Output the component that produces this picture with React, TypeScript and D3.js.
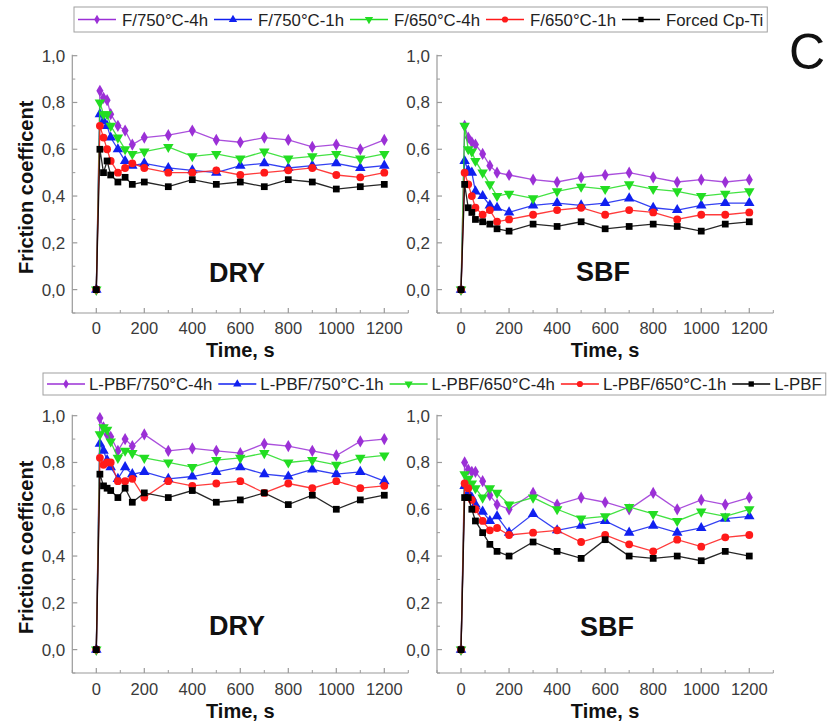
import React from "react";
import * as d3 from "d3";

const times = [0, 15, 30, 45, 60, 90, 120, 150, 200, 300, 400, 500, 600, 700, 800, 900, 1000, 1100, 1200];

// Top row: F series
const topLabels = ["F/750°C-4h", "F/750°C-1h", "F/650°C-4h", "F/650°C-1h", "Forced Cp-Ti"];
const f750_4h_dry = [0, 0.85, 0.82, 0.81, 0.75, 0.70, 0.68, 0.62, 0.65, 0.66, 0.68, 0.64, 0.63, 0.65, 0.64, 0.61, 0.62, 0.60, 0.64];
const f750_1h_dry = [0, 0.75, 0.72, 0.70, 0.65, 0.60, 0.55, 0.53, 0.54, 0.52, 0.51, 0.50, 0.53, 0.54, 0.52, 0.53, 0.54, 0.52, 0.53];
const f650_4h_dry = [0, 0.80, 0.75, 0.75, 0.70, 0.65, 0.60, 0.58, 0.59, 0.61, 0.57, 0.58, 0.56, 0.59, 0.56, 0.57, 0.58, 0.56, 0.58];
const f650_1h_dry = [0, 0.70, 0.65, 0.60, 0.55, 0.50, 0.52, 0.54, 0.52, 0.50, 0.50, 0.51, 0.49, 0.50, 0.51, 0.52, 0.49, 0.48, 0.50];
const forced_dry = [0, 0.60, 0.50, 0.55, 0.49, 0.46, 0.48, 0.45, 0.46, 0.44, 0.47, 0.45, 0.46, 0.44, 0.47, 0.46, 0.43, 0.44, 0.45];

const f750_4h_sbf = [0, 0.70, 0.65, 0.63, 0.62, 0.58, 0.53, 0.50, 0.49, 0.47, 0.46, 0.48, 0.49, 0.50, 0.48, 0.46, 0.47, 0.46, 0.47];
const f750_1h_sbf = [0, 0.55, 0.51, 0.50, 0.42, 0.40, 0.36, 0.35, 0.33, 0.36, 0.37, 0.36, 0.37, 0.39, 0.35, 0.34, 0.36, 0.37, 0.37];
const f650_4h_sbf = [0, 0.70, 0.60, 0.59, 0.55, 0.50, 0.45, 0.40, 0.41, 0.39, 0.42, 0.44, 0.43, 0.45, 0.43, 0.42, 0.40, 0.41, 0.42];
const f650_1h_sbf = [0, 0.50, 0.45, 0.40, 0.35, 0.32, 0.34, 0.29, 0.30, 0.32, 0.34, 0.35, 0.32, 0.34, 0.33, 0.30, 0.32, 0.32, 0.33];
const forced_sbf = [0, 0.45, 0.35, 0.33, 0.30, 0.29, 0.28, 0.26, 0.25, 0.28, 0.27, 0.29, 0.26, 0.27, 0.28, 0.27, 0.25, 0.28, 0.29];

// Bottom row: L-PBF series
const bottomLabels = ["L-PBF/750°C-4h", "L-PBF/750°C-1h", "L-PBF/650°C-4h", "L-PBF/650°C-1h", "L-PBF"];
const l750_4h_dry = [0, 0.99, 0.95, 0.92, 0.91, 0.85, 0.90, 0.87, 0.92, 0.85, 0.86, 0.85, 0.84, 0.88, 0.87, 0.85, 0.83, 0.89, 0.90];
const l750_1h_dry = [0, 0.88, 0.85, 0.81, 0.78, 0.73, 0.78, 0.75, 0.76, 0.73, 0.74, 0.76, 0.78, 0.75, 0.74, 0.77, 0.75, 0.76, 0.72];
const l650_4h_dry = [0, 0.92, 0.95, 0.94, 0.89, 0.82, 0.85, 0.84, 0.82, 0.80, 0.78, 0.81, 0.82, 0.84, 0.80, 0.81, 0.79, 0.82, 0.83];
const l650_1h_dry = [0, 0.82, 0.79, 0.80, 0.80, 0.72, 0.72, 0.73, 0.65, 0.72, 0.70, 0.71, 0.72, 0.67, 0.71, 0.69, 0.72, 0.69, 0.70];
const lpbf_dry = [0, 0.75, 0.70, 0.69, 0.68, 0.65, 0.69, 0.63, 0.67, 0.65, 0.68, 0.63, 0.64, 0.67, 0.62, 0.66, 0.60, 0.64, 0.66];

const l750_4h_sbf = [0, 0.80, 0.77, 0.76, 0.76, 0.72, 0.66, 0.62, 0.60, 0.67, 0.62, 0.65, 0.63, 0.60, 0.67, 0.60, 0.64, 0.62, 0.65];
const l750_1h_sbf = [0, 0.70, 0.67, 0.65, 0.62, 0.59, 0.55, 0.57, 0.50, 0.58, 0.51, 0.53, 0.55, 0.50, 0.53, 0.50, 0.52, 0.56, 0.57];
const l650_4h_sbf = [0, 0.75, 0.73, 0.71, 0.69, 0.65, 0.69, 0.67, 0.62, 0.65, 0.60, 0.56, 0.57, 0.61, 0.58, 0.55, 0.59, 0.57, 0.60];
const l650_1h_sbf = [0, 0.71, 0.69, 0.64, 0.60, 0.55, 0.51, 0.52, 0.49, 0.50, 0.51, 0.46, 0.49, 0.45, 0.42, 0.47, 0.44, 0.48, 0.49];
const lpbf_sbf = [0, 0.65, 0.65, 0.60, 0.55, 0.50, 0.45, 0.42, 0.40, 0.46, 0.42, 0.39, 0.47, 0.40, 0.39, 0.40, 0.38, 0.42, 0.40];

const xTicks = [0, 200, 400, 600, 800, 1000, 1200];
const yTicks = [0, 0.2, 0.4, 0.6, 0.8, 1.0];

const colors = ["#9b30d6", "#1020f0", "#22dd22", "#ff1a1a", "#000000"];
const symbols = [d3.symbolDiamond, d3.symbolTriangle, "down", d3.symbolCircle, d3.symbolSquare];

const FONT = "'Liberation Sans', Arial, sans-serif";

function markerPath(i: number, size: number) {
  const s = symbols[i];
  if (s === "down") return d3.symbol().type(d3.symbolTriangle).size(size)();
  const sz = s === d3.symbolSquare ? size * 0.95 : s === d3.symbolDiamond ? size * 0.9 : size;
  return d3.symbol().type(s as any).size(sz)();
}

function measure(text: string, font: string) {
  const c = document.createElement("canvas");
  const ctx = c.getContext("2d")!;
  ctx.font = font;
  return ctx.measureText(text).width;
}

type PanelProps = {
  series: number[][];
  x0: number; x1: number; yTop: number; yBottom: number;
  label: string; labelX: number; labelY: number;
  showYLabel: boolean; yLabelX: number;
  tickBaseline: number; titleBaseline: number;
};

function Panel(p: PanelProps) {
  const x = d3.scaleLinear().domain([-100, 1300]).range([p.x0, p.x1]);
  const y = d3.scaleLinear().domain([-0.1, 1.0]).range([p.yBottom, p.yTop]);
  const line = d3.line<number>().x((_, i) => x(times[i])).y((v) => y(v));
  const axisColor = "#9a9a9a";
  const minorX = d3.range(-100, 1301, 100).filter((v) => v % 200 !== 0);
  const minorY = d3.range(-1, 11, 2).map((v) => v / 10);
  const fmt = (v: number) => d3.format(".1f")(v).replace(".", ",");
  return (
    <g>
      <line x1={p.x0} x2={p.x0} y1={y(-0.1)} y2={y(1.0) - 1} stroke={axisColor} strokeWidth={1.2} />
      <line x1={p.x0} x2={p.x1} y1={y(-0.1)} y2={y(-0.1)} stroke={axisColor} strokeWidth={1.2} />
      {yTicks.map((t) => (
        <g key={"yt" + t}>
          <line x1={p.x0} x2={p.x0 + 5} y1={y(t)} y2={y(t)} stroke={axisColor} strokeWidth={1.2} />
          <text x={p.x0 - 7} y={y(t)} dy="0.35em" textAnchor="end" fontSize={17} fill="#3a3a3a" fontFamily={FONT}>{fmt(t)}</text>
        </g>
      ))}
      {minorY.map((t) => (
        <line key={"ym" + t} x1={p.x0} x2={p.x0 + 3} y1={y(t)} y2={y(t)} stroke={axisColor} strokeWidth={1} />
      ))}
      {xTicks.map((t) => (
        <g key={"xt" + t}>
          <line x1={x(t)} x2={x(t)} y1={y(-0.1)} y2={y(-0.1) - 5} stroke={axisColor} strokeWidth={1.2} />
          <text x={x(t)} y={p.tickBaseline} textAnchor="middle" fontSize={16.5} fill="#3a3a3a" fontFamily={FONT}>{t}</text>
        </g>
      ))}
      {minorX.map((t) => (
        <line key={"xm" + t} x1={x(t)} x2={x(t)} y1={y(-0.1)} y2={y(-0.1) - 3} stroke={axisColor} strokeWidth={1} />
      ))}
      <text x={(x(0) + x(1200)) / 2} y={p.titleBaseline} textAnchor="middle" fontSize={20} fontWeight="bold" fill="#111" fontFamily={FONT}>Time, s</text>
      {p.showYLabel && (
        <text transform={`translate(${p.yLabelX},${(y(-0.1) + y(1.0)) / 2 + 3}) rotate(-90)`} textAnchor="middle" fontSize={20} fontWeight="bold" fill="#111" fontFamily={FONT}>Friction coefficent</text>
      )}
      <text x={p.labelX} y={p.labelY} textAnchor="middle" fontSize={27} fontWeight="bold" fill="#111" fontFamily={FONT}>{p.label}</text>
      {p.series.map((s, i) => (
        <g key={"s" + i}>
          <path d={line(s) || ""} fill="none" stroke={colors[i]} strokeWidth={1.3} opacity={0.85} />
          {s.map((v, j) => (
            <path key={j} d={markerPath(i, 48) || ""} fill={colors[i]}
              transform={`translate(${x(times[j])},${y(v)})${symbols[i] === "down" ? " rotate(180)" : ""}`} />
          ))}
        </g>
      ))}
    </g>
  );
}

function Legend({ labels, left, top, height, fontSize, lineW, gapText, gapItem }: any) {
  const font = `${fontSize}px 'Liberation Sans', Arial, sans-serif`;
  let cx = left + 4;
  const items = labels.map((lab: string, i: number) => {
    const w = measure(lab, font);
    const item = { lab, i, lx: cx, tx: cx + lineW + gapText, w };
    cx = item.tx + w + gapItem;
    return item;
  });
  const right = cx - gapItem + 4;
  const cy = top + height / 2;
  return (
    <g>
      <rect x={left} y={top} width={right - left} height={height} fill="white" stroke="#a0a0a0" strokeWidth={1} />
      {items.map((it: any) => (
        <g key={it.i}>
          <line x1={it.lx} x2={it.lx + lineW} y1={cy} y2={cy} stroke={colors[it.i]} strokeWidth={1.3} />
          <path d={markerPath(it.i, 30) || ""} fill={colors[it.i]}
            transform={`translate(${it.lx + lineW / 2},${cy})${symbols[it.i] === "down" ? " rotate(180)" : ""}`} />
          <text x={it.tx} y={cy} dy="0.36em" fontSize={fontSize} fill="#222" fontFamily={FONT}>{it.lab}</text>
        </g>
      ))}
    </g>
  );
}

export default function App() {
  const topDry = [f750_4h_dry, f750_1h_dry, f650_4h_dry, f650_1h_dry, forced_dry];
  const topSbf = [f750_4h_sbf, f750_1h_sbf, f650_4h_sbf, f650_1h_sbf, forced_sbf];
  const botDry = [l750_4h_dry, l750_1h_dry, l650_4h_dry, l650_1h_dry, lpbf_dry];
  const botSbf = [l750_4h_sbf, l750_1h_sbf, l650_4h_sbf, l650_1h_sbf, lpbf_sbf];
  return (
    <svg width={834} height={722} style={{ position: "absolute", left: 0, top: 0, background: "white" }}>
      <rect width={834} height={722} fill="white" />
      <Legend labels={topLabels} left={74} top={7} height={25} fontSize={16.8} lineW={38} gapText={6} gapItem={6} />
      <text x={789} y={69} fontSize={50} fill="#111" fontFamily={FONT}>C</text>
      <Panel series={topDry} x0={72.3} x1={408.3} yTop={55.7} yBottom={313} label="DRY" labelX={237} labelY={282}
        showYLabel={true} yLabelX={33} tickBaseline={334} titleBaseline={357} />
      <Panel series={topSbf} x0={437} x1={773.3} yTop={55.7} yBottom={313} label="SBF" labelX={603} labelY={281}
        showYLabel={false} yLabelX={0} tickBaseline={334} titleBaseline={357} />
      <Legend labels={bottomLabels} left={43} top={373} height={22} fontSize={16.8} lineW={38} gapText={4} gapItem={6} />
      <Panel series={botDry} x0={72.3} x1={408.3} yTop={415.7} yBottom={673} label="DRY" labelX={237} labelY={635}
        showYLabel={true} yLabelX={33} tickBaseline={695} titleBaseline={718} />
      <Panel series={botSbf} x0={437} x1={773.3} yTop={415.7} yBottom={673} label="SBF" labelX={607} labelY={636}
        showYLabel={false} yLabelX={0} tickBaseline={695} titleBaseline={718} />
    </svg>
  );
}
